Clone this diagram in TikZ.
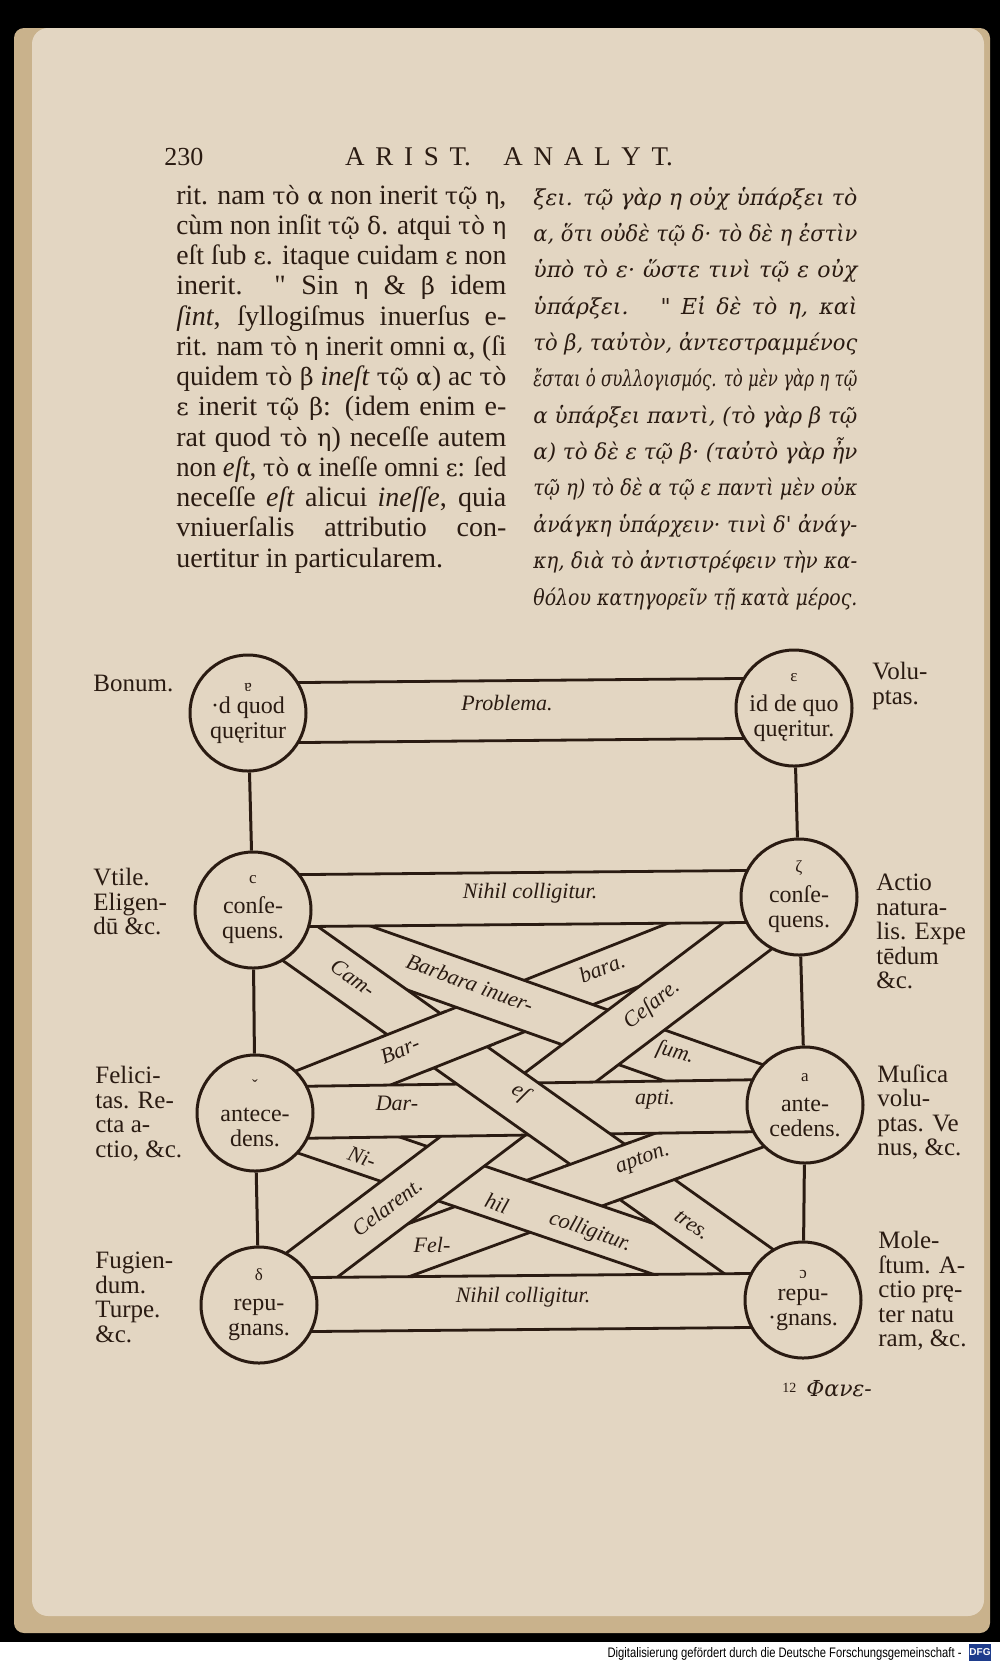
\documentclass[tikz,border=0pt]{standalone}
\usepackage{fontspec}
\usepackage{graphicx}
\setmainfont{Liberation Serif}
\newfontfamily\greekfont{DejaVu Serif}
\newfontfamily\footfont{Liberation Sans}
\usetikzlibrary{calc}
\definecolor{paper}{RGB}{227,214,194}
\definecolor{pageedge}{RGB}{201,178,140}
\definecolor{ink}{RGB}{42,27,18}
\definecolor{dfgblue}{RGB}{30,60,140}
\pgfdeclarelayer{back}
\pgfdeclarelayer{bands}
\pgfsetlayers{back,bands,main}
\newlength{\fitwd}
\newcommand{\gr}[1]{{\greekfont\fontsize{12}{12}\selectfont #1}}
\newcommand{\mk}[1]{{\fontsize{8.5}{8.5}\selectfont #1}\\[2.5pt]}
\newcommand{\fitline}[2]{\settowidth{\fitwd}{#2}%
  \ifdim\fitwd<#1\relax\makebox[#1][s]{#2}\else\resizebox{#1}{\height}{#2}\fi}
\newcommand{\band}[3]{%
  \fill[paper] ($(#1)!#3!90:(#2)$) -- ($(#2)!#3!-90:(#1)$) -- ($(#2)!#3!90:(#1)$) -- ($(#1)!#3!-90:(#2)$) -- cycle;
  \draw[bandline] ($(#1)!#3!90:(#2)$) -- ($(#2)!#3!-90:(#1)$);
  \draw[bandline] ($(#1)!#3!-90:(#2)$) -- ($(#2)!#3!90:(#1)$);}

\begin{document}
\begin{tikzpicture}[x=0.5pt,y=-0.5pt]
\tikzstyle{term}=[circle, draw=ink, line width=1.5pt, fill=paper,
                  minimum size=58pt, inner sep=0pt, align=center,
                  text=ink, font=\fontsize{12}{12.5}\selectfont]
\tikzstyle{bandline}=[draw=ink, line width=1.4pt]
\tikzstyle{link}=[draw=ink, line width=1.5pt]
\tikzstyle{mood}=[inner sep=0pt, text=ink, font=\itshape\fontsize{11}{11}\selectfont]
\tikzstyle{side}=[anchor=north west, align=left, inner sep=0pt, text=ink,
                  font=\fontsize{12.5}{12.25}\selectfont]
\tikzstyle{latin}=[anchor=base west, inner sep=0pt, text=ink, font=\fontsize{14}{15}\selectfont]
\tikzstyle{greek}=[anchor=base west, inner sep=0pt, text=ink, font=\greekfont\itshape\fontsize{11}{13}\selectfont]
\useasboundingbox (0,0) rectangle (1000,1662);

\begin{pgfonlayer}{back}
\fill[black] (0,0) rectangle (1000,1642);
\fill[white] (0,1642) rectangle (1000,1662);
\fill[pageedge, rounded corners=5pt] (14,28) rectangle (990,1633);
\fill[paper, rounded corners=8pt] (32,28) rectangle (984,1616);
\end{pgfonlayer}

\node[anchor=base west, inner sep=0pt, text=ink, font=\fontsize{13}{13}\selectfont] (pageno) at (164,165) {230};
\node[anchor=base, inner sep=0pt, text=ink, font=\fontsize{13.5}{13.5}\selectfont] (runhead) at (509,165) {\makebox[164pt][s]{A R I S T. \ \ A N A L Y T.}};

\node[latin] (l1) at (176,204) {\fitline{165pt}{rit. nam \gr{τὸ α} non inerit \gr{τῷ η},}};
\node[latin] (l2) at (176,234.25) {\fitline{165pt}{cùm non inſit \gr{τῷ δ}. atqui \gr{τὸ η}}};
\node[latin] (l3) at (176,264.5) {\fitline{165pt}{eſt ſub \gr{ε}. itaque cuidam \gr{ε} non}};
\node[latin] (l4) at (176,294.75) {\fitline{165pt}{inerit.\hspace{16pt}\textquotedbl\ Sin \gr{η} \& \gr{β} idem}};
\node[latin] (l5) at (176,325) {\fitline{165pt}{\emph{ſint}, ſyllogiſmus inuerſus e-}};
\node[latin] (l6) at (176,355.25) {\fitline{165pt}{rit. nam \gr{τὸ η} inerit omni \gr{α}, (ſi}};
\node[latin] (l7) at (176,385.5) {\fitline{165pt}{quidem \gr{τὸ β} \emph{ineſt} \gr{τῷ α}) ac \gr{τὸ}}};
\node[latin] (l8) at (176,415.75) {\fitline{165pt}{\gr{ε} inerit \gr{τῷ β}: (idem enim e-}};
\node[latin] (l9) at (176,446) {\fitline{165pt}{rat quod \gr{τὸ η}) neceſſe autem}};
\node[latin] (l10) at (176,476.25) {\fitline{165pt}{non \emph{eſt}, \gr{τὸ α} ineſſe omni \gr{ε}: ſed}};
\node[latin] (l11) at (176,506.5) {\fitline{165pt}{neceſſe \emph{eſt} alicui \emph{ineſſe}, quia}};
\node[latin] (l12) at (176,536.75) {\fitline{165pt}{vniuerſalis attributio con-}};
\node[latin] (l13) at (176,567) {uertitur in particularem.};

\node[greek] (g1) at (533,205) {\fitline{162pt}{ξει. τῷ γὰρ η οὐχ ὑπάρξει τὸ}};
\node[greek] (g2) at (533,241.4) {\fitline{162pt}{α, ὅτι οὐδὲ τῷ δ· τὸ δὲ η ἐστὶν}};
\node[greek] (g3) at (533,277.7) {\fitline{162pt}{ὑπὸ τὸ ε· ὥστε τινὶ τῷ ε οὐχ}};
\node[greek] (g4) at (533,314.1) {\fitline{162pt}{ὑπάρξει.\hspace{16pt}\textquotedbl\ Εἰ δὲ τὸ η, καὶ}};
\node[greek] (g5) at (533,350.4) {\fitline{162pt}{τὸ β, ταὐτὸν, ἀντεστραμμένος}};
\node[greek] (g6) at (533,386.8) {\fitline{162pt}{ἔσται ὁ συλλογισμός. τὸ μὲν γὰρ η τῷ}};
\node[greek] (g7) at (533,423.2) {\fitline{162pt}{α ὑπάρξει παντὶ, (τὸ γὰρ β τῷ}};
\node[greek] (g8) at (533,459.5) {\fitline{162pt}{α) τὸ δὲ ε τῷ β· (ταὐτὸ γὰρ ἦν}};
\node[greek] (g9) at (533,495.9) {\fitline{162pt}{τῷ η) τὸ δὲ α τῷ ε παντὶ μὲν οὐκ}};
\node[greek] (g10) at (533,532.2) {\fitline{162pt}{ἀνάγκη ὑπάρχειν· τινὶ δ' ἀνάγ-}};
\node[greek] (g11) at (533,568.6) {\fitline{162pt}{κη, διὰ τὸ ἀντιστρέφειν τὴν κα-}};
\node[greek] (g12) at (533,605) {\fitline{162pt}{θόλου κατηγορεῖν τῇ κατὰ μέρος.}};

\node[term] (A) at (248,713) {\mk{\rotatebox{180}{a}}·d quod\\quęritur};
\node[term] (B) at (794,708) {\mk{ε}id de quo\\quęritur.};
\node[term] (C) at (253,910) {\mk{c}conſe-\\quens.};
\node[term] (D) at (799,897) {\mk{ζ}conſe-\\quens.};
\node[term] (E) at (255,1113) {\mk{ˇ}antece-\\dens.};
\node[term] (F) at (805,1105) {\mk{a}ante-\\cedens.};
\node[term] (G) at (259,1305) {\mk{δ}repu-\\gnans.};
\node[term] (H) at (803,1300) {\mk{\rotatebox{180}{c}}repu-\\·gnans.};

\coordinate (ntl) at (253,901);
\coordinate (ntr) at (799,896);
\coordinate (camA) at ($(C)!0.22!(H)$);
\coordinate (camB) at ($(C)!0.45!(H)$);
\coordinate (camC) at ($(C)!0.52!(H)$);
\coordinate (camD) at ($(C)!0.85!(H)$);

\begin{pgfonlayer}{bands}
\band{A}{B}{15pt}
\band{E}{D}{12pt}
\band{C}{F}{12pt}
\band{G}{F}{12.5pt}
\band{E}{H}{12pt}
\band{D}{G}{12.5pt}
\band{E}{F}{13pt}
\band{C}{H}{12pt}
\begin{scope}
\clip ($(camA)!15pt!90:(H)$) -- ($(camB)!15pt!-90:(C)$) -- ($(camB)!15pt!90:(C)$) -- ($(camA)!15pt!-90:(H)$) -- cycle;
\band{E}{D}{12pt}
\end{scope}
\begin{scope}
\clip ($(camC)!15pt!90:(H)$) -- ($(camD)!15pt!-90:(C)$) -- ($(camD)!15pt!90:(C)$) -- ($(camC)!15pt!-90:(H)$) -- cycle;
\band{G}{F}{12.5pt}
\end{scope}
\band{ntl}{ntr}{13pt}
\band{G}{H}{13.5pt}
\end{pgfonlayer}

\draw[link] (A) -- (C);
\draw[link] (B) -- (D);
\draw[link] (C) -- (E);
\draw[link] (D) -- (F);
\draw[link] (E) -- (G);
\draw[link] (F) -- (H);

\node[mood] (problema) at (507,703) {Problema.};
\node[mood] (nihiltop) at (530,893) {Nihil colligitur.};
\node[mood, rotate=-35] (cam) at (353,978) {Cam-};
\node[mood, rotate=-20] (barbinv) at (470,983) {Barbara inuer-};
\node[mood, rotate=22] (bara) at (602,968) {bara.};
\node[mood, rotate=22] (bar) at (400,1050) {Bar-};
\node[mood, rotate=38] (cesare) at (652,1005) {Ceſare.};
\node[mood, rotate=-15] (sum) at (675,1053) {ſum.};
\node[mood] (dar) at (397,1103) {Dar-};
\node[mood, rotate=-35] (es) at (520,1093) {eſ};
\node[mood] (apti) at (655,1100) {apti.};
\node[mood, rotate=-19] (ni) at (362,1157) {Ni-};
\node[mood, rotate=37] (celarent) at (387,1207) {Celarent.};
\node[mood, rotate=-19] (hil) at (497,1203) {hil};
\node[mood, rotate=-19] (colligitur) at (590,1232) {colligitur.};
\node[mood] (fel) at (432,1245) {Fel-};
\node[mood, rotate=20] (apton) at (643,1160) {apton.};
\node[mood, rotate=-35] (tres) at (692,1225) {tres.};
\node[mood] (nihilbot) at (523,1297) {Nihil colligitur.};

\node[side] (bonum) at (93,675) {Bonum.};
\node[side] (voluptas) at (872,662) {Volu-\\ptas.};
\node[side] (vtile) at (93,868) {Vtile.\\Eligen-\\dū \&c.};
\node[side] (actio) at (876,874) {Actio\\natura-\\lis. Expe\\tēdum\\\&c.};
\node[side] (felicitas) at (95,1066) {Felici-\\tas. Re-\\cta a-\\ctio, \&c.};
\node[side] (musica) at (877,1064) {Muſica\\volu-\\ptas. Ve\\nus, \&c.};
\node[side] (fugiendum) at (95,1252) {Fugien-\\dum.\\Turpe.\\\&c.};
\node[side] (molestum) at (878,1231) {Mole-\\ſtum. A-\\ctio prę-\\ter natu\\ram, \&c.};

\node[anchor=base west, inner sep=0pt, text=ink, font=\fontsize{7}{7}\selectfont] (signature) at (782,1392) {12};
\node[anchor=base west, inner sep=0pt, text=ink, font=\greekfont\itshape\fontsize{11}{11}\selectfont] (catchword) at (806,1396) {Φανε-};

\node[anchor=base east, inner sep=0pt, font=\footfont] (credit) at (962,1657) {\resizebox{177pt}{5pt}{Digitalisierung gefördert durch die Deutsche Forschungsgemeinschaft -}};
\node[fill=dfgblue, text=white, inner sep=0pt, minimum width=11pt, minimum height=8.5pt, font=\footfont\bfseries\fontsize{5}{5}\selectfont] (dfg) at (980,1652) {DFG};
\end{tikzpicture}
\end{document}
